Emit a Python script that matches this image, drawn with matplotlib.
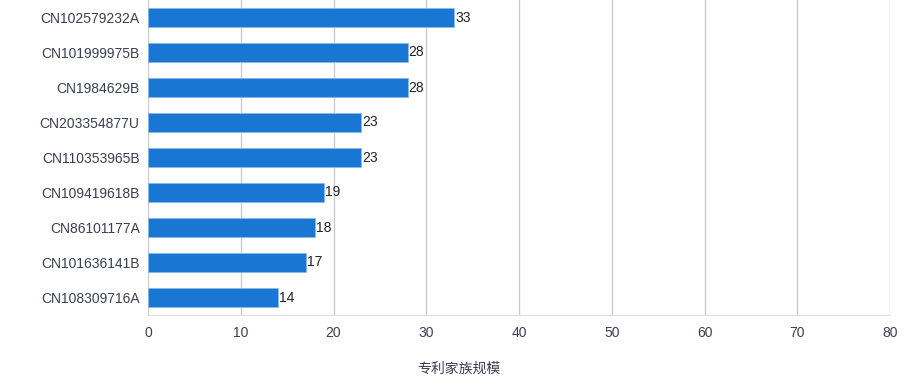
import matplotlib.pyplot as plt

# datos del grafico
patentes = ['CN102579232A', 'CN101999975B', 'CN1984629B', 'CN203354877U', 'CN110353965B',
            'CN109419618B', 'CN86101177A', 'CN101636141B', 'CN108309716A']
valores = [33, 28, 28, 23, 23, 19, 18, 17, 14]
x_ticks = [0, 10, 20, 30, 40, 50, 60, 70, 80]

plt.rcParams['font.family'] = ['Liberation Sans', 'Noto Sans CJK SC', 'DejaVu Sans']

fig = plt.figure(figsize=(9.18, 3.87), dpi=100)
ax = fig.add_axes([148/918, 72/387, 742/918, 315/387])

y = list(range(len(patentes)))
bars = ax.barh(y, valores, height=0.57, color='#1976d2', edgecolor='#8ab8ea', linewidth=0.6, zorder=3)
for yi, v in zip(y, valores):
    ax.text(v + 0.1, yi, str(v), va='center', ha='left', fontsize=10, color='#222222')

ax.set_ylim(len(patentes) - 0.5, -0.5)
ax.set_xlim(0, 80)
ax.set_yticks(y)
ax.set_yticklabels(patentes, fontsize=10, color='#3a3f51')
ax.set_xticks(x_ticks)
ax.set_xticklabels([str(t) for t in x_ticks], fontsize=10, color='#3a3f51')
ax.tick_params(axis='both', length=0, pad=6)
ax.tick_params(axis='x', pad=8)

ax.grid(axis='x', color='#cccccc', linewidth=1, zorder=0)
for s in ['top', 'right', 'left']:
    ax.spines[s].set_visible(False)
ax.spines['bottom'].set_color('#e0e0e0')

fig.text(0.5, 18/387, '专利家族规模', ha='center', va='center', fontsize=10, color='#3a3f51')

fig.savefig('out.png', dpi=100)
